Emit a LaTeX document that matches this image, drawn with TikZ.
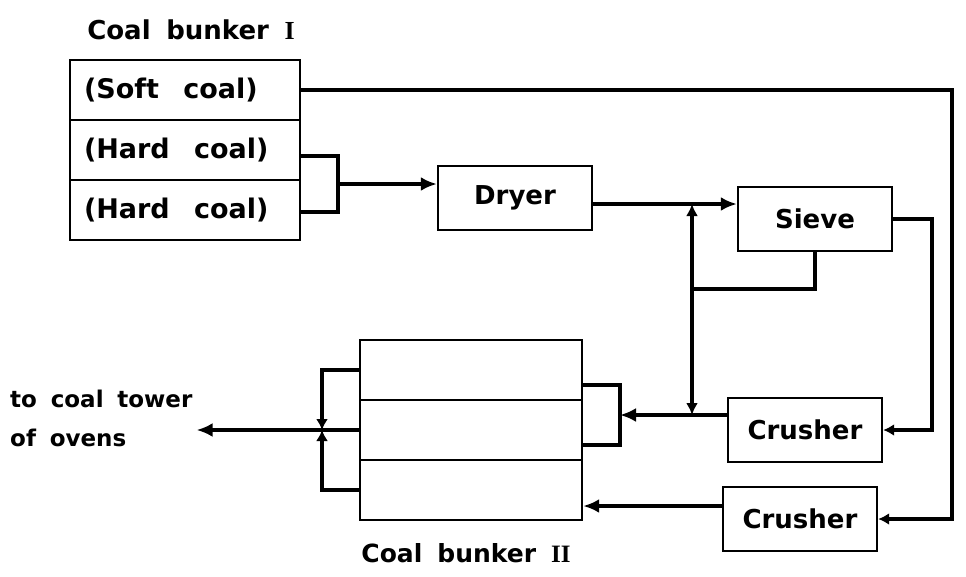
\documentclass[tikz,border=0pt]{standalone}
\usepackage{fontspec}
\setmainfont{DejaVu Sans}
\newfontfamily\numfont{Liberation Serif}
\newcommand\wordgap[1]{\spaceskip #1\relax}
\usetikzlibrary{arrows.meta}
\tikzset{
  lbl/.style={font={\fontsize{26}{39}\selectfont\bfseries\wordgap{0.6em}}},
  unitbox/.style={draw, line width=2.4pt, minimum width=154pt, minimum height=64pt, inner sep=0pt, lbl},
  cell/.style={draw, line width=2.4pt, minimum height=60pt, inner ysep=0pt, inner xsep=14pt, text width=202pt, align=flush left,
    font={\fontsize{27}{39}\selectfont\bfseries\wordgap{0.9em}}},
  slot/.style={draw, line width=2.4pt, minimum width=222pt, minimum height=60pt, inner sep=0pt},
  flow/.style={line width=3.8pt},
  feed/.style={flow, -{Latex[length=16pt,width=14pt]}},
  dab/.style={flow, -{Latex[length=11pt,width=12pt]}},
}

\begin{document}
\begin{tikzpicture}[x=1pt, y=-1pt]
  \useasboundingbox (0,0) rectangle (966,576);
  % coal bunker I
  \node[lbl] (nameI) at (191,30) {Coal bunker {\numfont I}};
  \node[cell] (soft)  at (185,90)  {(Soft coal)};
  \node[cell] (hardA) at (185,150) {(Hard coal)};
  \node[cell] (hardB) at (185,210) {(Hard coal)};
  % process units
  \node[unitbox] (dryer)    at (515,198) {Dryer};
  \node[unitbox] (sieve)    at (815,219) {Sieve};
  \node[unitbox] (crusherA) at (805,430) {Crusher};
  \node[unitbox] (crusherB) at (800,519) {Crusher};
  % coal bunker II
  \node[slot] (rowA) at (471,370) {};
  \node[slot] (rowB) at (471,430) {};
  \node[slot] (rowC) at (471,490) {};
  \node[font={\fontsize{25}{39}\selectfont\bfseries\wordgap{0.6em}}] (nameII) at (466,553) {Coal bunker {\numfont II}};
  \node[font={\fontsize{23}{39}\selectfont\bfseries\wordgap{0.6em}}, align=flush left, anchor=west, inner xsep=4pt] (tower) at (6,418) {to coal tower\\of ovens};
  % joints
  \coordinate (merge)  at (338,184);
  \coordinate (splitT) at (692,204);
  \coordinate (fines)  at (692,289);
  \coordinate (chute)  at (932,430);
  \coordinate (rim)    at (952,300);
  \coordinate (feedA)  at (620,415);
  \coordinate (splitB) at (splitT |- feedA);
  \coordinate (feedB)  at ([yshift=-16pt]rowC.east);
  \coordinate (joinL)  at (322,430);
  % hard coal line
  \draw[flow] ([yshift=-6pt]hardA.east) -| (merge) |- ([yshift=-2pt]hardB.east);
  \draw[feed] (merge) -- (merge -| dryer.west);
  \draw[feed] (dryer.east |- splitT) -- (sieve.west |- splitT);
  \draw[flow, {Latex[length=12pt,width=12pt]}-{Latex[length=12pt,width=12pt]}] (splitB) -- (splitT);
  \draw[flow] (sieve.south) |- (fines);
  \draw[dab] (sieve.east) -| (chute) -- (crusherA.east);
  \draw[feed] (crusherA.west |- feedA) -- (feedA);
  \draw[flow] ([yshift=-15pt]rowA.east) -| (feedA) |- ([yshift=-15pt]rowB.east);
  % soft coal line
  \draw[dab] (soft.east) -| (rim) |- (crusherB.east);
  \draw[feed] (crusherB.west |- feedB) -- (feedB);
  % discharge
  \draw[dab] (rowA.west) -| (joinL);
  \draw[dab] (rowC.west) -| (joinL);
  \draw[flow] (rowB.west) -- (joinL);
  \draw[feed] (joinL) -- (joinL -| tower.east);
\end{tikzpicture}
\end{document}
